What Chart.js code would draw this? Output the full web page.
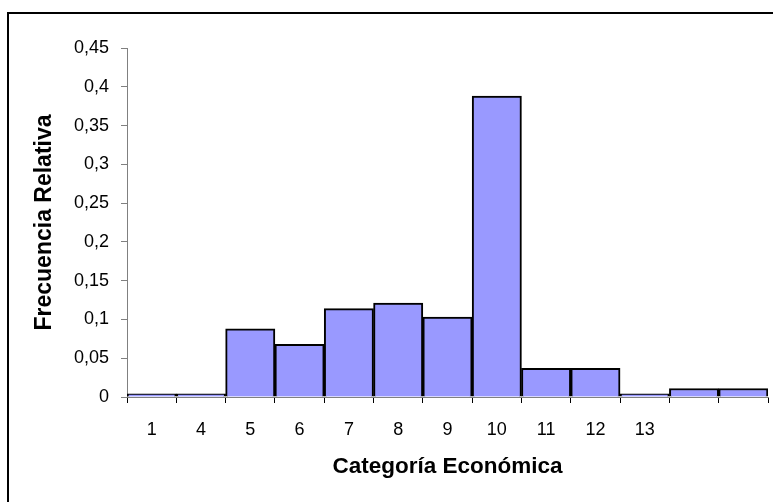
<!DOCTYPE html>
<html>
<head>
<meta charset="utf-8">
<script src="https://cdn.jsdelivr.net/npm/chart.js@4/dist/chart.umd.min.js"></script>
<style>
  html, body { margin: 0; padding: 0; background: #fff; }
  #wrap { width: 773px; height: 502px; position: relative; }
</style>
</head>
<body>
<div id="wrap"><canvas id="c" width="773" height="502"></canvas></div>
<script>
const categories = ['1', '4', '5', '6', '7', '8', '9', '10', '11', '12', '13', '', ''];
const frecuenciaRelativa = [0.004, 0.004, 0.088, 0.068, 0.114, 0.121, 0.103, 0.388, 0.037, 0.037, 0.004, 0.011, 0.011];
const yTickLabels = ['0', '0,05', '0,1', '0,15', '0,2', '0,25', '0,3', '0,35', '0,4', '0,45'];
const xTitle = 'Categoría Económica';
const yTitle = 'Frecuencia Relativa';

const FONT = 'Liberation Sans, Arial, sans-serif';

const framePlugin = {
  id: 'frame',
  beforeDraw(chart) {
    const ctx = chart.ctx;
    ctx.save();
    ctx.fillStyle = '#fff';
    ctx.fillRect(0, 0, chart.width, chart.height);
    ctx.fillStyle = '#000';
    ctx.fillRect(7, 12, chart.width - 7, 2);
    ctx.fillRect(7, 12, 2, chart.height - 12);
    ctx.restore();
  }
};

new Chart(document.getElementById('c'), {
  type: 'bar',
  data: {
    labels: categories,
    datasets: [{
      data: frecuenciaRelativa,
      backgroundColor: '#9999FF',
      borderColor: '#000000',
      borderWidth: 2,
      barPercentage: 1,
      categoryPercentage: 1
    }]
  },
  options: {
    responsive: false,
    animation: false,
    devicePixelRatio: 1,
    layout: { padding: { left: 0, right: 5, top: 48, bottom: 0 } },
    plugins: {
      legend: { display: false },
      tooltip: { enabled: false }
    },
    scales: {
      x: {
        grid: {
          offset: true,
          drawOnChartArea: false,
          drawTicks: true,
          tickLength: 6,
          color: '#000000'
        },
        border: { color: '#808080', width: 1 },
        ticks: {
          color: '#000',
          font: { family: FONT, size: 18 },
          padding: 16,
          maxRotation: 0,
          autoSkip: false
        },
        title: {
          display: true,
          text: xTitle,
          color: '#000',
          font: { family: FONT, size: 22.5, weight: 'bold' },
          padding: { top: 0, bottom: 22 }
        },
        afterFit(scale) { scale.height = 105; }
      },
      y: {
        min: 0,
        max: 0.45,
        grid: {
          drawOnChartArea: false,
          drawTicks: true,
          tickLength: 6,
          color: '#808080'
        },
        border: { color: '#808080', width: 1 },
        ticks: {
          stepSize: 0.05,
          color: '#000',
          font: { family: FONT, size: 18 },
          padding: 12,
          callback: (v, i) => yTickLabels[i]
        },
        title: {
          display: true,
          text: yTitle,
          color: '#000',
          font: { family: FONT, size: 23, weight: 'bold' },
          padding: { top: 31, bottom: 0 }
        },
        afterFit(scale) { scale.width = 127; }
      }
    }
  },
  plugins: [framePlugin]
});
</script>
</body>
</html>
